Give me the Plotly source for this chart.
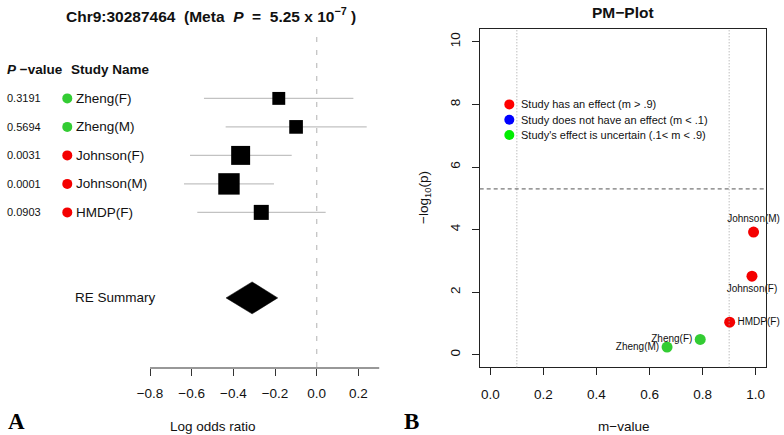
import plotly.graph_objects as go

# ---- data ----
studies = ["Zheng(F)", "Zheng(M)", "Johnson(F)", "Johnson(M)", "HMDP(F)"]
p_values = ["0.3191", "0.5694", "0.0031", "0.0001", "0.0903"]
log_or = [-0.182, -0.099, -0.365, -0.421, -0.266]
ci_low = [-0.541, -0.437, -0.608, -0.637, -0.573]
ci_high = [0.176, 0.240, -0.120, -0.205, 0.043]

summary_est = -0.310
summary_low = -0.435
summary_high = -0.187

m_values = [0.791, 0.666, 0.986, 0.992, 0.902]
neg_log_p = [0.49, 0.245, 2.51, 3.92, 1.04]

forest_ticks = [-0.8, -0.6, -0.4, -0.2, 0.0, 0.2]
pm_xticks = [0.0, 0.2, 0.4, 0.6, 0.8, 1.0]
pm_yticks = [0, 2, 4, 6, 8, 10]
m_thresholds = [0.1, 0.9]
p_threshold_line = 5.3

legend_labels = [
    "Study has an effect (m > .9)",
    "Study does not have an effect (m < .1)",
    "Study's effect is uncertain (.1< m < .9)",
]

# ---- styling ----
FONT = "Liberation Sans, Arial, Helvetica, sans-serif"
SERIF = "Liberation Serif, Times New Roman, serif"
RED = "#F40000"
GREEN = "#33CC33"
LEGEND_COLORS = ["#FF0000", "#0000FF", "#00EE00"]
W, H = 784, 435


def m_color(m):
    if m > 0.9:
        return RED
    if m < 0.1:
        return "#0000FF"
    return GREEN


def px_x(px):
    return px / W


def px_y(py):
    return 1 - py / H


rows = list(range(len(studies)))
summary_row = len(studies) + 2
colors = [m_color(m) for m in m_values]

fig = go.Figure()

# ---- panel A: forest plot ----
for r, lo, hi in zip(rows, ci_low, ci_high):
    fig.add_trace(go.Scatter(
        x=[lo, hi], y=[r, r], mode="lines",
        line=dict(color="#C2C2C2", width=1.4),
        hoverinfo="skip", showlegend=False, xaxis="x", yaxis="y"))

box_sizes = [9.25 / (hi - lo) for lo, hi in zip(ci_low, ci_high)]
fig.add_trace(go.Scatter(
    x=log_or, y=rows, mode="markers",
    marker=dict(symbol="square", size=box_sizes, color="black",
                opacity=1, line=dict(width=0)),
    showlegend=False, xaxis="x", yaxis="y"))

half_h = 0.56
fig.add_trace(go.Scatter(
    x=[summary_low, summary_est, summary_high, summary_est, summary_low],
    y=[summary_row, summary_row - half_h, summary_row,
       summary_row + half_h, summary_row],
    mode="lines", fill="toself", fillcolor="black",
    line=dict(color="black", width=0.5),
    showlegend=False, xaxis="x", yaxis="y"))

# coloured study dots
DOT_X = -1.197
fig.add_trace(go.Scatter(
    x=[DOT_X] * len(rows), y=rows, mode="markers",
    marker=dict(size=10, color=colors, opacity=1, line=dict(width=0)),
    showlegend=False, xaxis="x", yaxis="y"))

annotations = []
for r, p, s in zip(rows, p_values, studies):
    annotations.append(dict(
        x=px_x(5), y=r, xref="paper", yref="y", text=p, showarrow=False,
        xanchor="left", yanchor="middle", font=dict(size=11, color="#111")))
    annotations.append(dict(
        x=px_x(74), y=r, xref="paper", yref="y", text=s, showarrow=False,
        xanchor="left", yanchor="middle", font=dict(size=13.5, color="#111")))

annotations += [
    dict(x=px_x(5), y=-1, xref="paper", yref="y",
         text="<b><i>P</i> \u2212value</b>", showarrow=False,
         xanchor="left", yanchor="middle", font=dict(size=13.5, color="#111")),
    dict(x=px_x(69), y=-1, xref="paper", yref="y",
         text="<b>Study Name</b>", showarrow=False,
         xanchor="left", yanchor="middle", font=dict(size=13.5, color="#111")),
    dict(x=px_x(115), y=summary_row, xref="paper", yref="y",
         text="RE Summary", showarrow=False,
         xanchor="center", yanchor="middle", font=dict(size=13.5, color="#111")),
    dict(x=px_x(211), y=px_y(15), xref="paper", yref="paper",
         text="<b>Chr9:30287464\u00a0\u00a0(Meta\u00a0\u00a0<i>P</i>\u00a0\u00a0=\u00a0\u00a0"
              "5.25 x 10<sup>\u22127</sup>\u00a0)</b>",
         showarrow=False, xanchor="center", yanchor="middle",
         font=dict(size=15.5, color="#111")),
    dict(x=px_x(212.5), y=px_y(426), xref="paper", yref="paper",
         text="Log odds ratio", showarrow=False,
         xanchor="center", yanchor="middle", font=dict(size=13.5, color="#111")),
    dict(x=px_x(16.5), y=px_y(421), xref="paper", yref="paper",
         text="<b>A</b>", showarrow=False, xanchor="center", yanchor="middle",
         font=dict(size=23, color="black", family=SERIF)),
]

shapes = [
    # zero reference line
    dict(type="line", xref="x", yref="y", x0=0, x1=0, y0=-2.15, y1=9.46,
         line=dict(color="#C4C4C4", width=1.3, dash="5px,8px"), layer="below"),
    # axis line of forest plot
    dict(type="line", xref="x", yref="y domain", x0=forest_ticks[0], x1=0.3,
         y0=0, y1=0, line=dict(color="#333", width=1.2)),
]

# ---- panel B: PM-plot ----
fig.add_trace(go.Scatter(
    x=m_values, y=neg_log_p, mode="markers+text",
    text=studies,
    textposition=["middle left", "middle left", "bottom center",
                  "top center", "middle right"],
    textfont=dict(size=10, color="#111"),
    marker=dict(size=11, color=colors, opacity=1, line=dict(width=0)),
    showlegend=False, xaxis="x2", yaxis="y2", cliponaxis=False))

for m in m_thresholds:
    shapes.append(dict(type="line", xref="x2", yref="y2 domain",
                       x0=m, x1=m, y0=0, y1=1,
                       line=dict(color="#A0A0A0", width=1, dash="1px,2px")))
shapes.append(dict(type="line", xref="x2 domain", yref="y2",
                   x0=0, x1=1, y0=p_threshold_line, y1=p_threshold_line,
                   line=dict(color="#555", width=1, dash="4px,3px")))

legend_x, legend_y0, legend_dy = 0.0716, 8.0, 0.49
for i, (lab, col) in enumerate(zip(legend_labels, LEGEND_COLORS)):
    yy = legend_y0 - i * legend_dy
    shapes.append(dict(type="circle", xref="x2", yref="y2",
                       xsizemode="pixel", ysizemode="pixel",
                       xanchor=legend_x, yanchor=yy,
                       x0=-5, x1=5, y0=-5, y1=5,
                       fillcolor=col, line=dict(width=0)))
    annotations.append(dict(
        x=0.108, y=yy, xref="x2", yref="y2", text=lab, showarrow=False,
        xanchor="left", yanchor="middle", font=dict(size=11, color="#111")))

annotations += [
    dict(x=px_x(623), y=px_y(12), xref="paper", yref="paper",
         text="<b>PM\u2212Plot</b>", showarrow=False,
         xanchor="center", yanchor="middle", font=dict(size=15.5, color="#111")),
    dict(x=px_x(623), y=px_y(426), xref="paper", yref="paper",
         text="m\u2212value", showarrow=False,
         xanchor="center", yanchor="middle", font=dict(size=13.5, color="#111")),
    dict(x=px_x(424), y=px_y(198), xref="paper", yref="paper",
         text="\u2212log<sub>10</sub>(p)", showarrow=False, textangle=-90,
         xanchor="center", yanchor="middle", font=dict(size=13.5, color="#111")),
    dict(x=px_x(411), y=px_y(421), xref="paper", yref="paper",
         text="<b>B</b>", showarrow=False, xanchor="center", yanchor="middle",
         font=dict(size=23, color="black", family=SERIF)),
]

# forest x axis: pixel 150 -> -0.8, 316.7 -> 0.0
fx_scale = (316.7 - 150) / 0.8
fx_range = [-316.7 / fx_scale, (392 - 316.7) / fx_scale]

fig.update_layout(
    width=W, height=H,
    margin=dict(l=0, r=0, t=0, b=0),
    paper_bgcolor="white", plot_bgcolor="white",
    font=dict(family=FONT, color="#111"),
    showlegend=False,
    xaxis=dict(domain=[0, 0.5], range=fx_range, showgrid=False,
               zeroline=False, showline=False, tickvals=forest_ticks,
               tickformat=".1f", ticks="outside", ticklen=7, tickwidth=1.2,
               tickcolor="#333", tickfont=dict(size=13.5, color="#111"),
               ticklabelstandoff=6, anchor="y"),
    yaxis=dict(domain=[px_y(368), px_y(30)], range=[9.46, -2.4],
               visible=False, anchor="x"),
    xaxis2=dict(domain=[px_x(479.7), px_x(766.3)], range=[-0.04, 1.04],
                showgrid=False, zeroline=False, showline=True, mirror=True,
                linecolor="#222", linewidth=1, tickvals=pm_xticks,
                tickformat=".1f", ticks="outside", ticklen=7,
                tickcolor="#222", tickfont=dict(size=13.5, color="#111"),
                ticklabelstandoff=7, anchor="y2"),
    yaxis2=dict(domain=[px_y(367.3), px_y(29.3)], range=[-0.4, 10.4],
                showgrid=False, zeroline=False, showline=True, mirror=True,
                linecolor="#222", linewidth=1, tickvals=pm_yticks,
                ticks="outside", ticklen=7, tickcolor="#222", tickangle=-90,
                tickfont=dict(size=13.5, color="#111"),
                ticklabelstandoff=6, anchor="x2"),
    shapes=shapes,
    annotations=annotations,
)

# the page's default body margin would push the figure out of the window
fig.write_html("out.html", config={"displayModeBar": False},
               post_script="document.body.style.margin='0';")
